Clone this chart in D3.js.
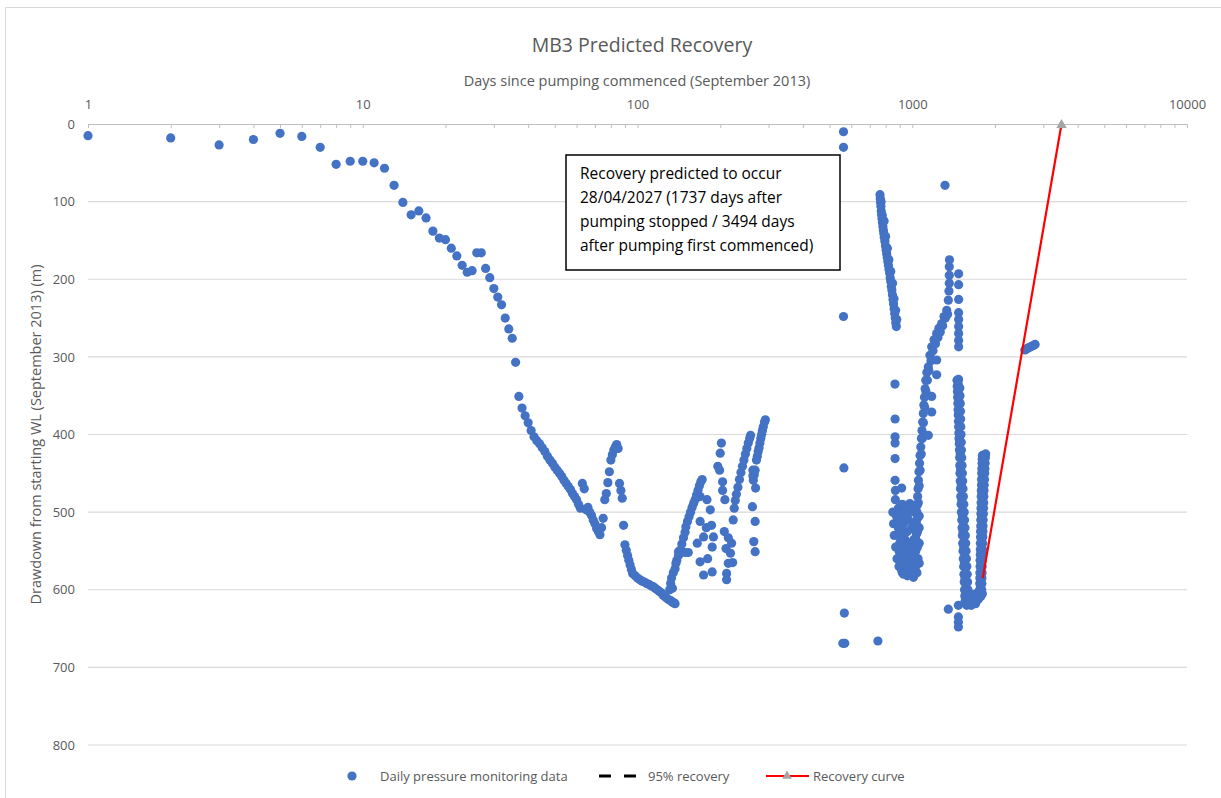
<!DOCTYPE html>
<html>
<head>
<meta charset="utf-8">
<script src="https://cdn.jsdelivr.net/npm/d3@7"></script>
<style>
  body { margin: 0; background: #fff; }
  svg text { font-family: "Open Sans", sans-serif; fill: #595959; }
</style>
</head>
<body>
<div id="chart"></div>
<script>
// ---- data: [days since pumping commenced, drawdown (m)] ----
const initialPumping = [
  [1,15],[2,18],[3,27],[4,20],[5,12],[6,16],[7,30],[8,52],[9,48],[10,48],
  [11,50],[12,57],[13,79],[14,101],[15,117],[16,112],[17,121],[18,138],[19,147],[20,149],
  [21,160],[22,170],[23,182],[24,191],[25,189],[26,166],[27,166],[28,186],[29,198],[30,212],
  [31,223],[32,233],[33,250],[34,264],[35,276],[36,307],[37,351],[38,366],[39,376],[40,385],[41,395]
];

const firstDecline = [
  [42,403],[43,408],[44,412],[45,417],[46,422],[47,428],[48,433],[49,437],[50,442],[51,446],
  [52,450],[53,454],[54,459],[55,463],[56,467],[57,471],[58,476],[59,480],[60,484],[61,490],
  [62,495],[63,463],[64,470],[65,497],[66,494],[67,500],[68,504],[69,510],[70,515],[71,521],
  [72,525],[73,529],[74,520],[75,508],[76,484],[77,476],[78,462],[79,448],[80,433],[81,426],
  [82,420],[83,416],[84,413],[85,418],[86,463],[87,472],[88,482],[89,517],[90,542],[91,549],
  [92,556],[93,562],[94,568],[95,574],[96,579],[98,582],[100,585],[102,587],[104,589],[106,590],
  [108,592],[110,593],[112,595],[114,596],[116,598],[118,600],[120,602],[122,604],[124,607],[126,609],
  [128,611],[130,613],[132,614],[134,616],[136,617],[137,618]
];

const middleCycles = [
  [131,600],[132,592],[133,585],[134,598],[135,578],[137,573],[138,566],[139,562],[141,556],[143,549],
  [145,541],[147,533],[149,526],[150,519],[152,512],[154,506],[156,500],[158,494],[160,489],[162,484],
  [164,478],[166,472],[168,466],[170,461],[172,458],
  [141,551],[145,551],[149,552],[153,552],
  [169,480],[179,484],[184,497],[169,512],[186,517],[174,532],[189,532],[187,545],[169,564],[174,581],
  [187,577],[165,540],[178,520],[180,560],
  [202,411],[200,424],[196,441],[199,446],[204,461],[204,472],[208,484],
  [207,525],[214,533],[210,547],[218,553],[214,566],[211,579],[211,587],[220,540],[222,565],
  [223,510],[225,495],[227,485],[229,477],[232,468],[235,458],[238,449],[241,441],[244,433],[247,425],
  [250,418],[253,411],[256,405],[258,401],
  [263,446],[263,453],[269,469],[262,493],[268,512],[265,538],[268,551],
  [264,459],[266,452],[268,446],[271,433],[273,428],[275,422],[277,417],[279,411],[281,405],[283,400],
  [285,395],[287,390],[290,384],[292,381]
];

const isolatedReadings = [
  [562,10],[562,30],[562,248],[564,443],[566,630],[559,669],[568,669],[750,666],
  [1316,79],[1353,625],[1472,620],[1472,635],[1472,642],[1472,648]
];

const secondCycle = [
  [763,91],[765,96],[767,101],[769,106],[771,112],[773,117],[776,122],[779,127],[782,132],[785,137],
  [788,141],[791,146],[795,151],[799,157],[803,162],[807,167],[811,172],[815,177],[819,182],[823,187],
  [827,192],[831,198],[835,203],[839,209],[843,214],[847,220],[851,226],[855,232],[859,238],[863,244],
  [867,250],[871,256],[875,261],
  [770,100],[778,118],[790,125],[800,145],[812,160],[822,175],[835,190],[848,205],[858,225],[870,240],[878,252],
  [865,335],[866,380],[866,403],[866,411],[866,431],[866,459],[868,472],[915,469],[868,484],
  [850,500],[855,515],[860,530],[870,545],[880,560],[895,570],[920,578],[960,582],[1010,584],
  [900,500],[940,495],[980,489],[1010,492],[1040,500],[1060,505],[890,520],[930,515],[970,510],
  [1020,515],[1060,520],[900,540],[940,535],[980,540],[1030,535],[1060,540],[920,555],[960,560],
  [1000,565],[1050,560],[1060,566],[940,570],[990,575],[1040,578],
  [875,505],[885,530],[895,550],[905,565],[915,575],[930,580],[950,578],[975,576],[1000,578],[1025,572],
  [890,495],[910,510],[925,525],[945,545],[965,550],[985,555],[1005,545],[1025,548],[1045,545],
  [920,490],[950,505],[995,520],[1045,525],[880,515],[900,525],[915,545],[935,560],[1015,535],[960,525],
  [985,500]
];

const thirdCycle = [
  [1015,570],[1020,556],[1023,545],[1026,535],[1030,525],[1034,513],[1038,502],[1042,491],[1046,480],
  [1050,470],[1053,459],[1058,448],[1063,437],[1068,427],[1074,416],[1080,405],[1085,395],[1091,384],
  [1097,373],[1102,362],[1108,352],[1114,341],[1120,330],[1130,320],[1144,313],[1160,298],[1177,287],
  [1200,278],[1227,270],[1250,263],[1280,257],[1305,248],[1335,240],[1353,227],[1360,215],[1364,205],
  [1364,195],[1364,184],[1366,175],
  [1030,550],[1038,528],[1045,508],[1052,488],[1060,466],[1068,446],[1078,425],[1088,405],[1098,385],
  [1110,365],[1122,345],[1135,330],[1150,318],[1170,305],[1190,292],[1215,283],[1240,275],[1265,268],
  [1290,260],[1320,250],[1345,245],
  [1144,401],[1177,371],[1177,351],[1227,304],[1227,323],
  [1475,193],[1475,207],[1475,226],[1475,243],[1475,252],[1475,261],[1475,270],[1475,279],[1475,287],
  [1475,329],[1475,348],
  [1455,330],[1460,345],[1465,360],[1470,375],[1475,390],[1480,405],[1485,420],[1490,440],[1495,460],
  [1502,480],[1510,500],[1518,520],[1526,540],[1534,560],[1542,580],[1550,600],[1556,615],
  [1458,338],[1463,352],[1468,368],[1473,383],[1478,398],[1483,412],[1488,430],[1492,450],[1498,470],
  [1506,490],[1514,510],[1522,530],[1530,550],[1538,570],[1546,590],[1553,608],
  [1470,335],[1475,355],[1480,372],[1485,390],[1490,408],[1495,425],[1500,445],[1508,465],[1515,485],
  [1522,505],[1530,525],[1540,545],[1548,565],[1556,585],[1565,605],
  [1490,340],[1495,360],[1500,380],[1505,400],[1510,420],[1518,440],[1526,460],[1535,480],[1545,500],
  [1555,520],[1565,540],[1575,560],[1585,580],[1595,600],[1605,615],
  [1492,350],[1498,370],[1502,390],[1508,410],[1514,430],[1522,450],[1530,470],[1540,490],[1550,510],
  [1560,530],[1570,550],[1580,570],[1590,590],[1600,608],
  [1560,618],[1580,620],[1600,618],[1620,616],[1640,620],[1660,617],[1680,615],[1700,618],[1720,614],
  [1740,612],[1760,610],[1780,608],[1800,605],[1620,608],[1680,606],[1740,603]
];

const finalCycle = [
  [1760,600],[1762,585],[1765,570],[1768,555],[1770,540],[1773,525],[1776,510],[1779,495],[1782,480],
  [1786,465],[1790,450],[1795,437],[1800,427],
  [1761,592],[1763,578],[1766,562],[1769,548],[1772,532],[1775,518],[1778,502],[1781,488],[1784,472],
  [1788,458],[1792,444],[1797,432],
  [1790,600],[1793,585],[1796,570],[1800,555],[1804,540],[1808,525],[1812,510],[1817,495],[1822,480],
  [1828,465],[1835,450],[1842,437],[1850,425],
  [1792,592],[1795,578],[1798,562],[1802,548],[1806,532],[1810,518],[1815,502],[1820,488],[1825,472],
  [1832,458],[1838,444],[1846,430],
  [1775,595],[1780,565],[1785,535],[1790,505],[1796,475],[1803,445],[1820,430]
];

const postStop = [
  [2570,291],[2600,290],[2630,289],[2660,288],[2700,287],[2730,286],[2770,285],[2800,284]
];

const recoveryCurve = [[1805,585],[3494,0]];

const xMajor = [1, 10, 100, 1000, 10000];
const yTicks = [0, 100, 200, 300, 400, 500, 600, 700, 800];

const noteLines = [
  'Recovery predicted to occur',
  '28/04/2027 (1737 days after',
  'pumping stopped / 3494 days',
  'after pumping first commenced)'
];

const monitoring = [].concat(initialPumping, firstDecline, middleCycles, isolatedReadings,
  secondCycle, thirdCycle, finalCycle, postStop);

// ---- layout ----
const width = 1221, height = 798;
const margin = {top: 124, right: 34, bottom: 53, left: 88};

const svg = d3.select('#chart').append('svg')
  .attr('width', width)
  .attr('height', height);

svg.append('rect').attr('width', width).attr('height', height).attr('fill', '#fff');

// chart frame
svg.append('rect')
  .attr('x', 5.5).attr('y', 7.5)
  .attr('width', 1240).attr('height', 820)
  .attr('fill', 'none').attr('stroke', '#d9d9d9');

const x = d3.scaleLog().domain([1, 10000]).range([margin.left, width - margin.right]);
const y = d3.scaleLinear().domain([0, 800]).range([margin.top, height - margin.bottom]);

// horizontal gridlines
svg.append('g').selectAll('line')
  .data(yTicks.filter(d => d > 0))
  .join('line')
  .attr('x1', x(1)).attr('x2', x(10000))
  .attr('y1', d => y(d)).attr('y2', d => y(d))
  .attr('stroke', '#d9d9d9').attr('stroke-width', 1.2);

// top (log) axis, ticks point down into the plot
const logTicks = [];
for (let p = 1; p <= 1000; p *= 10) {
  for (let m = 1; m < 10; m++) logTicks.push(p * m);
}
logTicks.push(10000);

const xAxis = svg.append('g')
  .attr('transform', `translate(0,${y(0)})`)
  .call(d3.axisTop(x)
    .tickValues(logTicks)
    .tickSize(-4)
    .tickSizeOuter(0)
    .tickPadding(15)
    .tickFormat(d => xMajor.includes(d) ? d : ''));
xAxis.select('.domain').attr('stroke', '#bfbfbf').attr('stroke-width', 1.2);
xAxis.selectAll('.tick line').attr('stroke', '#bfbfbf');
xAxis.selectAll('text').attr('font-size', 13).style('fill', '#595959');

// left axis labels
const yAxis = svg.append('g')
  .attr('transform', `translate(${margin.left},0)`)
  .call(d3.axisLeft(y).tickValues(yTicks).tickSize(0).tickPadding(13));
yAxis.select('.domain').remove();
yAxis.selectAll('text').attr('font-size', 13).style('fill', '#595959');

// monitoring points
svg.append('g').selectAll('circle')
  .data(monitoring)
  .join('circle')
  .attr('cx', d => x(d[0]))
  .attr('cy', d => y(d[1]))
  .attr('r', 4.6)
  .attr('fill', '#4472C4');

// recovery curve
const line = d3.line().x(d => x(d[0])).y(d => y(d[1]));
svg.append('path')
  .datum(recoveryCurve)
  .attr('d', line)
  .attr('fill', 'none')
  .attr('stroke', '#ff0000')
  .attr('stroke-width', 2.2);

const last = recoveryCurve[recoveryCurve.length - 1];
svg.append('path')
  .attr('d', d3.symbol(d3.symbolTriangle).size(48)())
  .attr('transform', `translate(${x(last[0])},${y(last[1]) + 1})`)
  .attr('fill', '#a5a5a5');

// annotation box
svg.append('rect')
  .attr('x', 566).attr('y', 155)
  .attr('width', 274).attr('height', 115)
  .attr('fill', '#fff')
  .attr('stroke', '#000').attr('stroke-width', 1.5);

svg.append('text')
  .attr('font-size', 15.5)
  .selectAll('tspan')
  .data(noteLines)
  .join('tspan')
  .attr('x', 580)
  .attr('y', (d, i) => 179 + i * 24)
  .style('fill', '#000')
  .text(d => d);

// titles
svg.append('text')
  .attr('x', 642).attr('y', 52)
  .attr('text-anchor', 'middle')
  .attr('font-size', 19.5)
  .text('MB3 Predicted Recovery');

svg.append('text')
  .attr('x', 637).attr('y', 86)
  .attr('text-anchor', 'middle')
  .attr('font-size', 14.5)
  .text('Days since pumping commenced (September 2013)');

svg.append('text')
  .attr('transform', `translate(41,${(y(0) + y(800)) / 2}) rotate(-90)`)
  .attr('text-anchor', 'middle')
  .attr('font-size', 14.5)
  .text('Drawdown from starting WL (September 2013) (m)');

// legend
const legend = svg.append('g').attr('font-size', 13);
legend.append('circle').attr('cx', 352).attr('cy', 776).attr('r', 4.6).attr('fill', '#4472C4');
legend.append('text').attr('x', 380).attr('y', 781).text('Daily pressure monitoring data');
legend.append('line')
  .attr('x1', 599).attr('x2', 636).attr('y1', 776).attr('y2', 776)
  .attr('stroke', '#000').attr('stroke-width', 3).attr('stroke-dasharray', '12,13');
legend.append('text').attr('x', 648).attr('y', 781).text('95% recovery');
legend.append('line')
  .attr('x1', 766).attr('x2', 809).attr('y1', 776).attr('y2', 776)
  .attr('stroke', '#ff0000').attr('stroke-width', 2.2);
legend.append('path')
  .attr('d', d3.symbol(d3.symbolTriangle).size(40)())
  .attr('transform', 'translate(787,776)')
  .attr('fill', '#a5a5a5');
legend.append('text').attr('x', 813).attr('y', 781).text('Recovery curve');
</script>
</body>
</html>
